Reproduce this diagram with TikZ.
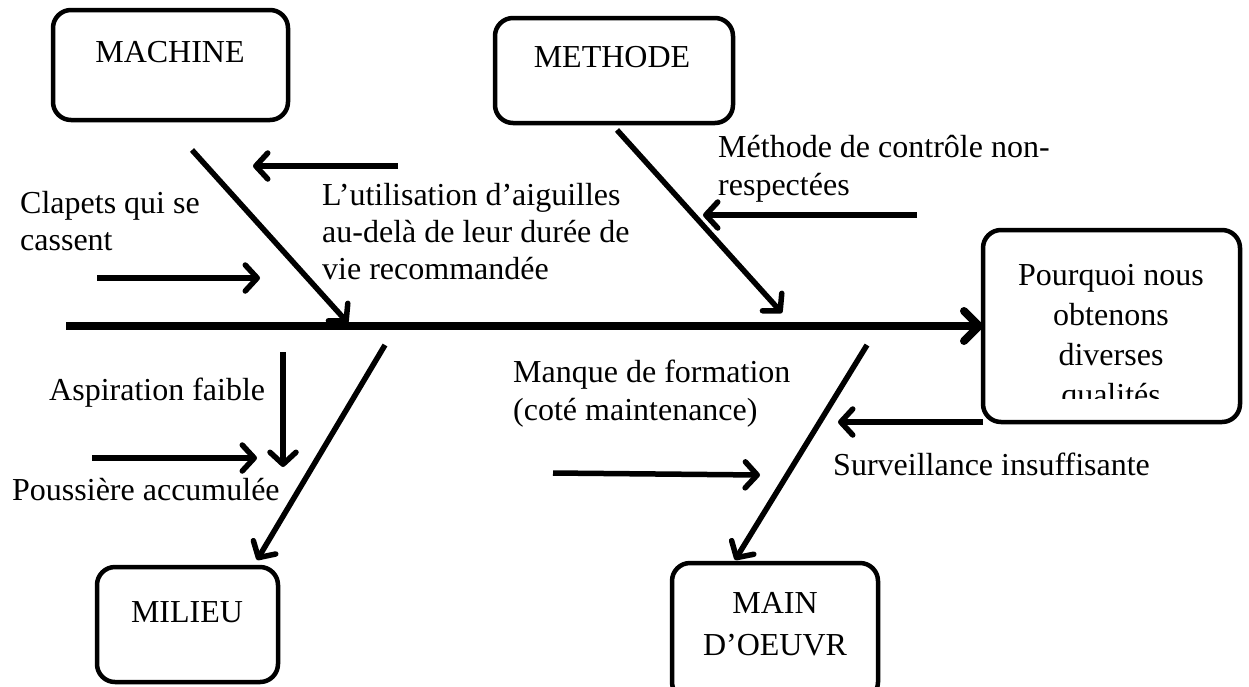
\documentclass[tikz,border=0pt]{standalone}
\usepackage{fontspec}
\setmainfont{Liberation Serif}
\usetikzlibrary{arrows.meta}
\begin{document}
\begin{tikzpicture}[x=1pt,y=-1pt,
  every node/.style={inner sep=0pt, font=\fontsize{32}{38}\selectfont},
  catbox/.style={draw, line width=4.5pt, outer sep=0pt, rounded corners=18pt, anchor=north west},
  bone/.style={line width=5.5pt, -{Straight Barb[length=12pt,width=26pt,round]}},
  spinearr/.style={line width=8pt, -{Straight Barb[length=15pt,width=30pt,round]}},
  lbl/.style={anchor=base west, align=left},
]
\useasboundingbox (0,0) rectangle (1249,686);

% category boxes
\node[catbox, minimum width=235pt, minimum height=110pt] (machine) at (53,10) {};
\node[anchor=base] (machinetxt) at (170,62) {MACHINE};
\node[catbox, minimum width=238pt, minimum height=105pt] (methode) at (495,18) {};
\node[anchor=base] (methodetxt) at (612,67) {METHODE};
\node[catbox, minimum width=181pt, minimum height=115pt] (milieu) at (97,567) {};
\node[anchor=base] (milieutxt) at (187,622) {MILIEU};
\node[catbox, minimum width=206pt, minimum height=137pt] (mainoeuvre) at (672,563) {};
% a multi-line node sits on the baseline of its last line
\node[anchor=base, align=center, font=\fontsize{32}{42}\selectfont] (mainoeuvretxt) at (775,655) {MAIN\\D’OEUVR};

% effect box, its last line cut off by the frame
\node[catbox, minimum width=257pt, minimum height=192pt] (why) at (983,230) {};
\begin{scope}
  \clip (983,230) rectangle (1240,398);
  \node[anchor=base, align=center, font=\fontsize{32}{40}\selectfont] (whytxt) at (1111,405)
    {Pourquoi nous\\obtenons\\diverses\\qualités};
\end{scope}

% cause labels
\node[lbl, font=\fontsize{32}{37}\selectfont] (clapets) at (20,250) {Clapets qui se\\cassent};
\node[lbl, font=\fontsize{32}{37}\selectfont] (aiguilles) at (322,279) {L’utilisation d’aiguilles\\au-delà de leur durée de\\vie recommandée};
\node[lbl] (controle) at (718,195) {Méthode de contrôle non-\\respectées};
\node[lbl] (aspiration) at (49,400) {Aspiration faible};
\node[lbl] (poussiere) at (12,500) {Poussière accumulée};
\node[lbl] (formation) at (513,420) {Manque de formation\\(coté maintenance)};
\node[lbl] (surveillance) at (833,475) {Surveillance insuffisante};

% end points of the bones
\coordinate (s0) at (66,326);
\coordinate (m0) at (192,150);  \coordinate (m1) at (348,323);
\coordinate (e0) at (617,130);  \coordinate (e1) at (782,313);
\coordinate (l0) at (385,345);  \coordinate (l1) at (257,560);
\coordinate (o0) at (867,345);  \coordinate (o1) at (735,560);
\coordinate (a0) at (398,166);  \coordinate (a1) at (253,166);
\coordinate (c0) at (97,278);   \coordinate (c1) at (260,278);
\coordinate (r0) at (917,215);  \coordinate (r1) at (703,215);
\coordinate (f0) at (283,352);  \coordinate (f1) at (283,467);
\coordinate (p0) at (92,458);   \coordinate (p1) at (257,458);
\coordinate (n0) at (553,473);  \coordinate (n1) at (760,475);
\coordinate (v1) at (838,422);

% spine and main bones
\draw[spinearr] (s0) -- (why.west);
\draw[bone] (m0) -- (m1);
\draw[bone] (e0) -- (e1);
\draw[bone] (l0) -- (l1);
\draw[bone] (o0) -- (o1);

% small cause arrows
\draw[bone] (a0) -- (a1);
\draw[bone] (c0) -- (c1);
\draw[bone] (r0) -- (r1);
\draw[bone] (f0) -- (f1);
\draw[bone] (p0) -- (p1);
\draw[bone] (n0) -- (n1);
\draw[bone] (why.south west) -- (v1);
\end{tikzpicture}
\end{document}
